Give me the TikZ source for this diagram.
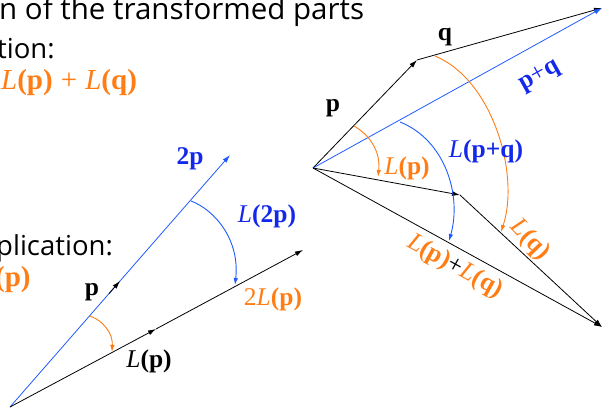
\documentclass[tikz,border=0pt]{standalone}
\usepackage{fontspec}
\setmainfont{Liberation Serif}
\newfontfamily\slidefont{Open Sans}
\usetikzlibrary{arrows.meta,calc}
\definecolor{lblue}{RGB}{30,90,255}
\definecolor{tblue}{RGB}{20,40,235}
\definecolor{lorange}{RGB}{255,125,20}
\newcommand{\Lf}[1]{\textit{L}\textbf{(#1)}}
\begin{document}
\begin{tikzpicture}[x=1pt,y=-1pt,
  vec/.style={line width=0.8pt,-{Latex[length=8pt,width=5pt]}},
  arcarrow/.style={line width=0.9pt,-{Latex[length=7pt,width=4.5pt]}},
  lbl/.style={inner sep=0pt,font=\fontsize{25.5}{25.5}\selectfont},
  slide/.style={inner sep=0pt,anchor=base west,font=\slidefont\fontsize{27.5}{27.5}\selectfont},
  formula/.style={inner sep=0pt,anchor=base west,font=\fontsize{29}{29}\selectfont,text=lorange},
]
\useasboundingbox (0,0) rectangle (603,411);
\clip (0,0) rectangle (603,411);

% slide text (cut off at the left)
\node[slide,font=\slidefont\fontsize{29.5}{29.5}\selectfont] (t1) at (-1,20) {\makebox[365pt][s]{n of the transformed parts}};
\node[slide] (t2) at (-3,59) {tion:};
\node[formula] (t3) at (1,90) {\Lf{p}\hspace{0.28em}+\hspace{0.28em}\Lf{q}};
\node[slide] (t4) at (-4,256) {plication:};
\node[formula] (t5) at (-5,287) {\textbf{(p)}};

% ---------- left diagram ----------
\coordinate (O1) at (10,407);
\coordinate (P1) at (120,281);
\coordinate (P2) at (230,155);
\coordinate (LP1) at (156,329);
\coordinate (LP2) at (303,250);

\draw[vec,lblue] (O1) -- (P2);
\draw[vec] ($(O1)!0.9!(P1)$) -- (P1);
\draw[vec] (O1) -- (LP1);
\draw[vec] (LP1) -- (LP2);

\coordinate (a1s) at (90,316);
\coordinate (a1e) at (112,352);
\draw[arcarrow,lorange] (a1s) .. controls (104,321) and (113,334) .. (a1e);
\coordinate (a2s) at (191,201);
\coordinate (a2e) at (235,285);
\draw[arcarrow,lblue] (a2s) .. controls (215,210) and (240,240) .. (a2e);

\node[lbl,text=tblue] (l2p) at (190,159) {\textbf{2p}};
\node[lbl,text=tblue] (lL2p) at (267,216) {\textit{L}\textbf{(2p)}};
\node[lbl] (lp) at (92,292) {\textbf{p}};
\node[lbl,text=lorange] (l2Lp) at (273,299) {2\Lf{p}};
\node[lbl] (lLp) at (149,361) {\Lf{p}};

% ---------- right diagram ----------
\coordinate (O2) at (313,168);
\coordinate (P) at (417,60);
\coordinate (S) at (602,8);
\coordinate (LP) at (460,195);
\coordinate (LS) at (602,327);

\draw[vec] (O2) -- (P);
\draw[vec] (P) -- (S);
\draw[vec,lblue] (O2) -- (S);
\draw[vec] (O2) -- (LP);
\draw[vec] (LP) -- (LS);
\draw[vec] (O2) -- (LS);

\coordinate (b1s) at (354,126);
\coordinate (b1e) at (378,177);
\draw[arcarrow,lorange] (b1s) .. controls (368,134) and (381,150) .. (b1e);
\coordinate (b2s) at (400,122);
\coordinate (b2e) at (449,241);
\draw[arcarrow,lblue] (b2s) .. controls (445,140) and (462,195) .. (b2e);
\coordinate (b3s) at (435,56);
\coordinate (b3e) at (501,232);
\draw[arcarrow,lorange] (b3s) .. controls (493,80) and (520,175) .. (b3e);

\node[lbl] (rq) at (445,37) {\textbf{q}};
\node[lbl] (rp) at (333,108) {\textbf{p}};
\node[lbl,text=tblue,rotate=29] (rpq) at (540,76) {\textbf{p}+\textbf{q}};
\node[lbl,text=lorange] (rLp) at (407,168) {\Lf{p}};
\node[lbl,text=tblue] (rLpq) at (486,151) {\textit{L}\textbf{(p+q)}};
\node[lbl,text=lorange,rotate=-46] (rLq) at (530,240) {\Lf{q}};
\node[lbl,text=lorange,rotate=-29] (rLpLq) at (455,267) {\Lf{p}\textcolor{black}{+}\Lf{q}};
\end{tikzpicture}
\end{document}
